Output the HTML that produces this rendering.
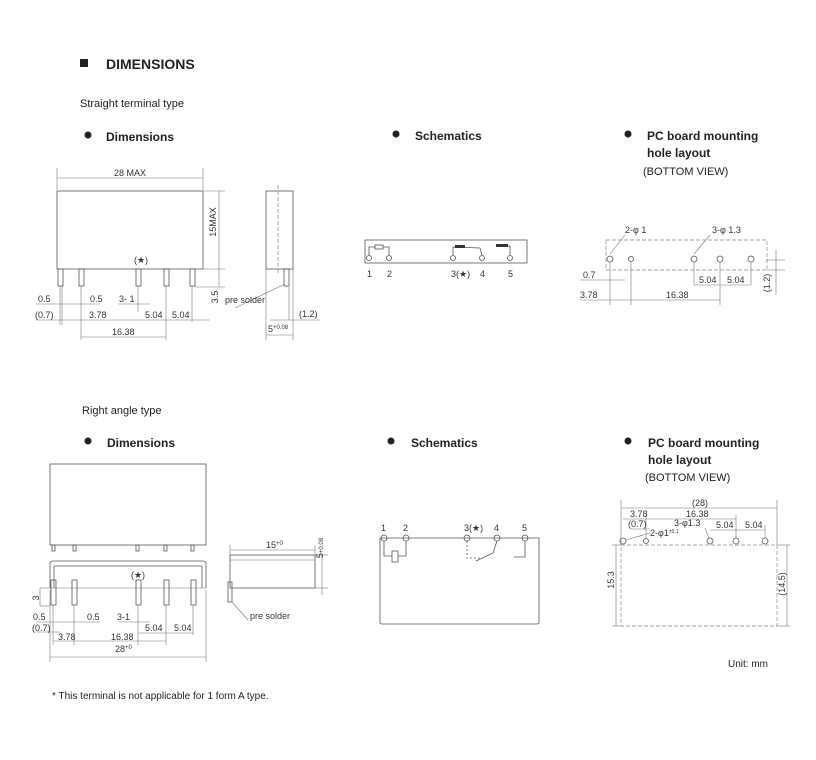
<!DOCTYPE html>
<html><head><meta charset="utf-8"><style>
body{margin:0;background:#fff;}
svg{display:block;font-family:"Liberation Sans",sans-serif;}
.t{font-size:9px;fill:#333}
.h{font-size:11px;fill:#222}
.b{font-size:12px;font-weight:bold;fill:#222}
.l{stroke:#555;stroke-width:0.8;fill:none}
.d{stroke:#777;stroke-width:0.6;fill:none}
.dash{stroke:#888;stroke-width:0.7;fill:none;stroke-dasharray:4 2}
</style></head><body>
<svg width="816" height="760" viewBox="0 0 816 760">
<rect width="816" height="760" fill="#fff"/>
<rect x="80" y="59" width="8" height="8" fill="#222"/>
<text x="106" y="69" style="font-size:14px;font-weight:bold;fill:#222">DIMENSIONS</text>
<text x="80" y="107" class="h">Straight terminal type</text>
<circle cx="88" cy="135" r="3.5" fill="#222"/><text x="106" y="141" class="b">Dimensions</text>
<circle cx="396" cy="134" r="3.5" fill="#222"/><text x="415" y="140" class="b">Schematics</text>
<circle cx="628" cy="134" r="3.5" fill="#222"/><text x="647" y="140" class="b">PC board mounting</text>
<text x="647" y="157" class="b">hole layout</text>
<text x="643" y="175" class="h">(BOTTOM VIEW)</text>

<!-- straight dims -->
<g>
<rect x="57" y="191" width="146" height="78" class="l"/>
<line x1="57" y1="168" x2="57" y2="190" class="d"/><line x1="203" y1="168" x2="203" y2="190" class="d"/>
<line x1="57" y1="178" x2="203" y2="178" class="d"/>
<text x="130" y="176" class="t" text-anchor="middle">28 MAX</text>
<line x1="204" y1="191" x2="225" y2="191" class="d"/><line x1="204" y1="269" x2="225" y2="269" class="d"/><line x1="195" y1="287" x2="225" y2="287" class="d"/>
<line x1="219" y1="191" x2="219" y2="287" class="d"/>
<text transform="translate(216,222) rotate(-90)" class="t" text-anchor="middle">15MAX</text>
<text transform="translate(218,297) rotate(-90)" class="t" text-anchor="middle">3.5</text>
<text x="141" y="263" class="t" text-anchor="middle">(★)</text>
<g class="l">
<rect x="58" y="269" width="5" height="17"/><rect x="79" y="269" width="5" height="17"/><rect x="136" y="269" width="5" height="17"/><rect x="164" y="269" width="5" height="17"/><rect x="190" y="269" width="5" height="17"/>
</g>
<g class="d">
<line x1="60" y1="286" x2="60" y2="325"/><line x1="62" y1="286" x2="62" y2="325"/><line x1="81" y1="286" x2="81" y2="340"/><line x1="138" y1="286" x2="138" y2="312"/><line x1="166" y1="286" x2="166" y2="340"/><line x1="192" y1="286" x2="192" y2="322"/>
<line x1="36" y1="304" x2="100" y2="304"/><line x1="118" y1="304" x2="150" y2="304"/>
<line x1="36" y1="320" x2="210" y2="320"/><line x1="81" y1="337" x2="166" y2="337"/>
</g>
<text x="38" y="302" class="t">0.5</text><text x="90" y="302" class="t">0.5</text><text x="119" y="302" class="t">3- 1</text>
<text x="35" y="318" class="t">(0.7)</text><text x="89" y="318" class="t">3.78</text><text x="145" y="318" class="t">5.04</text><text x="172" y="318" class="t">5.04</text>
<text x="112" y="335" class="t">16.38</text>
<rect x="266" y="191" width="27" height="78" class="l"/>
<line x1="278" y1="185" x2="278" y2="275" class="dash"/>
<rect x="284" y="269" width="5" height="17" class="l"/>
<line x1="266" y1="269" x2="266" y2="340" class="d"/><line x1="293" y1="269" x2="293" y2="340" class="d"/><line x1="289" y1="287" x2="289" y2="320" class="d"/>
<line x1="235" y1="308" x2="285" y2="284" class="d"/>
<text x="225" y="303" class="t">pre solder</text>
<line x1="270" y1="320" x2="320" y2="320" class="d"/><text x="299" y="317" class="t">(1.2)</text>
<line x1="266" y1="335" x2="293" y2="335" class="d"/><text x="268" y="332" class="t">5<tspan style="font-size:6px" dy="-3">+0.08</tspan></text>
</g>

<!-- schematic top -->
<rect x="365" y="240" width="162" height="23" class="l"/>
<g class="l">
<circle cx="369" cy="258" r="2.5"/><circle cx="389" cy="258" r="2.5"/><circle cx="453" cy="258" r="2.5"/><circle cx="482" cy="258" r="2.5"/><circle cx="510" cy="258" r="2.5"/>
<path d="M369 255 V247 H389 V255"/><rect x="375" y="245" width="8" height="4" fill="#fff"/>
<path d="M453 255 V247 L480 248 L482 255"/><path d="M510 255 V246 H496"/>
</g>
<rect x="455" y="245" width="10" height="3" fill="#333"/><rect x="496" y="244" width="12" height="3" fill="#333"/>
<text x="367" y="277" class="t">1</text><text x="387" y="277" class="t">2</text><text x="451" y="277" class="t">3(★)</text><text x="480" y="277" class="t">4</text><text x="508" y="277" class="t">5</text>

<!-- PCB top -->
<rect x="606" y="240" width="161" height="30" class="dash"/>
<g class="l">
<circle cx="610" cy="259" r="3"/><circle cx="631" cy="259" r="2.5"/><circle cx="694" cy="259" r="3"/><circle cx="720" cy="259" r="3"/><circle cx="751" cy="259" r="3"/>
</g>
<g class="d">
<line x1="610" y1="262" x2="610" y2="305"/><line x1="631" y1="262" x2="631" y2="305"/><line x1="694" y1="262" x2="694" y2="285"/><line x1="720" y1="262" x2="720" y2="305"/><line x1="751" y1="262" x2="751" y2="285"/>
<line x1="580" y1="280" x2="625" y2="280"/><line x1="580" y1="300" x2="720" y2="300"/><line x1="694" y1="285" x2="751" y2="285"/>
<line x1="610" y1="254" x2="625" y2="235"/><line x1="694" y1="254" x2="710" y2="235"/>
<line x1="766" y1="260" x2="785" y2="260"/><line x1="766" y1="270" x2="785" y2="270"/><line x1="776" y1="250" x2="776" y2="295"/>
</g>
<text x="625" y="233" class="t">2-φ 1</text><text x="712" y="233" class="t">3-φ 1.3</text>
<text x="583" y="278" class="t">0.7</text><text x="580" y="298" class="t">3.78</text><text x="666" y="298" class="t">16.38</text>
<text x="699" y="283" class="t">5.04</text><text x="727" y="283" class="t">5.04</text>
<text transform="translate(770,283) rotate(-90)" class="t" text-anchor="middle">(1.2)</text>

<!-- right angle -->
<text x="82" y="414" class="h">Right angle type</text>
<circle cx="88" cy="441" r="3.5" fill="#222"/><text x="107" y="447" class="b">Dimensions</text>
<circle cx="391" cy="441" r="3.5" fill="#222"/><text x="411" y="447" class="b">Schematics</text>
<circle cx="628" cy="441" r="3.5" fill="#222"/><text x="648" y="447" class="b">PC board mounting</text>
<text x="648" y="464" class="b">hole layout</text>
<text x="645" y="481" class="h">(BOTTOM VIEW)</text>

<rect x="50" y="464" width="156" height="81" class="l"/>
<g class="l"><rect x="52" y="545" width="3" height="6"/><rect x="73" y="545" width="3" height="6"/><rect x="136" y="545" width="3" height="6"/><rect x="164" y="545" width="3" height="6"/><rect x="191" y="545" width="3" height="6"/></g>
<path d="M50 588 V564 Q50 561 53 561 H203 Q206 561 206 564 V588" class="l"/>
<path d="M54 588 V566 H202 V588" class="l"/>
<line x1="50" y1="588" x2="206" y2="588" class="d"/>
<g class="l"><rect x="51" y="580" width="5" height="25"/><rect x="72" y="580" width="5" height="25"/><rect x="136" y="580" width="5" height="25"/><rect x="164" y="580" width="5" height="25"/><rect x="191" y="580" width="5" height="25"/></g>
<text x="138" y="578" class="t" text-anchor="middle">(★)</text>
<g class="d">
<line x1="40" y1="588" x2="50" y2="588"/><line x1="40" y1="606" x2="50" y2="606"/><line x1="40" y1="588" x2="40" y2="606"/>
<line x1="36" y1="622" x2="100" y2="622"/><line x1="118" y1="622" x2="150" y2="622"/><line x1="36" y1="632" x2="60" y2="632"/>
<line x1="138" y1="605" x2="138" y2="645"/><line x1="166" y1="605" x2="166" y2="645"/><line x1="193" y1="605" x2="193" y2="635"/>
<line x1="53" y1="605" x2="53" y2="645"/><line x1="74" y1="605" x2="74" y2="645"/>
<line x1="138" y1="633" x2="193" y2="633"/><line x1="53" y1="641" x2="166" y2="641"/>
<line x1="50" y1="590" x2="50" y2="662"/><line x1="206" y1="590" x2="206" y2="662"/><line x1="50" y1="657" x2="206" y2="657"/>
</g>
<text transform="translate(39,598) rotate(-90)" class="t" text-anchor="middle">3</text>
<text x="33" y="620" class="t">0.5</text><text x="87" y="620" class="t">0.5</text><text x="117" y="620" class="t">3-1</text>
<text x="32" y="631" class="t">(0.7)</text><text x="145" y="631" class="t">5.04</text><text x="174" y="631" class="t">5.04</text>
<text x="58" y="640" class="t">3.78</text><text x="111" y="640" class="t">16.38</text><text x="115" y="652" class="t">28<tspan style="font-size:6px" dy="-3">+0</tspan></text>
<rect x="230" y="555" width="85" height="33" class="l"/>
<line x1="230" y1="560" x2="315" y2="560" class="d"/>
<rect x="228" y="582" width="4" height="20" class="l"/>
<line x1="230" y1="550" x2="315" y2="550" class="d"/>
<line x1="230" y1="545" x2="230" y2="555" class="d"/><line x1="315" y1="545" x2="315" y2="555" class="d"/>
<text x="266" y="548" class="t">15<tspan style="font-size:6px" dy="-3">+0</tspan></text>
<line x1="315" y1="555" x2="328" y2="555" class="d"/><line x1="315" y1="588" x2="328" y2="588" class="d"/><line x1="322" y1="555" x2="322" y2="595" class="d"/>
<text transform="translate(323,548) rotate(-90)" class="t" text-anchor="middle">5<tspan style="font-size:6px">+0.08</tspan></text>
<line x1="232" y1="602" x2="248" y2="620" class="d"/>
<text x="250" y="619" class="t">pre solder</text>

<!-- schematic right -->
<path d="M380 538 V622 Q380 624 382 624 H537 Q539 624 539 622 V538 Z" class="l"/>
<g class="l">
<circle cx="384" cy="538" r="3"/><circle cx="406" cy="538" r="3"/><circle cx="467" cy="538" r="3"/><circle cx="497" cy="538" r="3"/><circle cx="525" cy="538" r="3"/>
<path d="M384 541 V556 H406 V541"/><rect x="392" y="551" width="6" height="11" fill="#fff"/>
<path d="M467 541 V558 H481" stroke-dasharray="2 2"/><path d="M497 541 L493 553 L476 561"/>
<path d="M525 541 V557 H514"/>
</g>
<text x="381" y="531" class="t">1</text><text x="403" y="531" class="t">2</text><text x="464" y="531" class="t">3(★)</text><text x="494" y="531" class="t">4</text><text x="522" y="531" class="t">5</text>

<!-- PCB right -->
<rect x="621" y="545" width="156" height="81" class="dash"/>
<g class="l">
<circle cx="623" cy="541" r="3"/><circle cx="646" cy="541" r="2.5"/><circle cx="710" cy="541" r="3"/><circle cx="736" cy="541" r="3"/><circle cx="765" cy="541" r="3"/>
</g>
<g class="d">
<line x1="621" y1="500" x2="621" y2="545"/><line x1="777" y1="500" x2="777" y2="545"/><line x1="621" y1="508" x2="777" y2="508"/>
<line x1="623" y1="519" x2="736" y2="519"/><line x1="631" y1="529" x2="650" y2="529"/><line x1="710" y1="530" x2="765" y2="530"/>
<line x1="646" y1="515" x2="646" y2="538"/><line x1="736" y1="515" x2="736" y2="538"/><line x1="765" y1="525" x2="765" y2="538"/>
<line x1="612" y1="545" x2="621" y2="545"/><line x1="612" y1="626" x2="621" y2="626"/><line x1="616" y1="545" x2="616" y2="626"/>
<line x1="777" y1="545" x2="790" y2="545"/><line x1="777" y1="626" x2="790" y2="626"/><line x1="787" y1="545" x2="787" y2="626"/>
<line x1="626" y1="540" x2="650" y2="533"/><line x1="705" y1="528" x2="709" y2="538"/>
</g>
<text x="692" y="506" class="t">(28)</text><text x="630" y="517" class="t">3.78</text><text x="686" y="517" class="t">16.38</text>
<text x="628" y="527" class="t">(0.7)</text><text x="674" y="526" class="t">3-φ1.3</text><text x="650" y="536" class="t">2-φ1<tspan style="font-size:5px" dy="-3">±0.1</tspan></text>
<text x="716" y="528" class="t">5.04</text><text x="745" y="528" class="t">5.04</text>
<text transform="translate(614,580) rotate(-90)" class="t" text-anchor="middle">15.3</text>
<text transform="translate(785,584) rotate(-90)" class="t" text-anchor="middle">(14.5)</text>

<text x="728" y="667" class="h" style="font-size:10px">Unit: mm</text>
<text x="52" y="699" class="h" style="font-size:10px">* This terminal is not applicable for 1 form A type.</text>
</svg>
</body></html>
